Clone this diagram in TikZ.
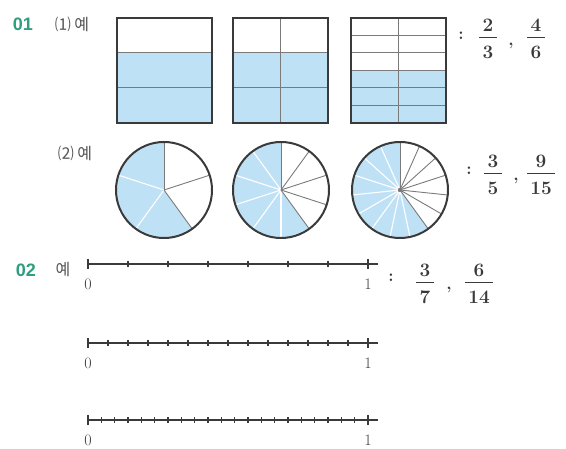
\documentclass[tikz,border=0pt]{standalone}
\usepackage{fontspec}
\usetikzlibrary{calc}
\newfontfamily\kr{Noto Sans CJK KR}
\newfontfamily\hd{Liberation Sans}
\definecolor{shadeblue}{HTML}{BFE1F6}
\definecolor{edgegray}{HTML}{3A3A3A}
\definecolor{midgray}{HTML}{7A7A7A}
\definecolor{numgreen}{HTML}{2E9E7E}
\definecolor{txtgray}{HTML}{555555}
\tikzset{
  outline/.style={draw=edgegray, line width=2},
  inner/.style={draw=midgray, line width=1},
  fillblue/.style={fill=shadeblue},
  numtag/.style={font=\hd\bfseries\fontsize{18}{20}\selectfont, text=numgreen, inner sep=0},
  krtag/.style={font=\kr\fontsize{16}{18}\selectfont, text=txtgray, inner sep=0},
  fracdigit/.style={font=\bfseries\fontsize{19}{21}\selectfont, inner sep=0, text=edgegray},
  punct/.style={font=\bfseries\fontsize{17}{19}\selectfont, inner sep=0, text=edgegray},
  bar/.style={draw=edgegray, line width=1},
  axis/.style={draw=edgegray, line width=1.8},
  tickmark/.style={draw=edgegray, line width=1.1},
  axlabel/.style={font=\fontsize{16}{18}\selectfont, inner sep=0, text=edgegray}
}
\newcommand\myfrac[5]{% name, x, ybar, num, den
  \node[fracdigit] (#1n) at (#2,#3-13) {#4};
  \node[fracdigit] (#1d) at (#2,#3+14) {#5};
  \draw[bar] ([xshift=-3pt]#1d.west |- 0,#3) -- ([xshift=3pt]#1d.east |- 0,#3);
}
\begin{document}
\begin{tikzpicture}[x=1pt,y=-1pt]
\useasboundingbox (0,0) rectangle (566,449);

% ---------- labels ----------
\node[numtag] (t01) at (23,24) {01};
\node[krtag] (t1) at (72,24) {⑴ 예};
\node[krtag] (t2) at (75,153) {⑵ 예};
\node[numtag] (t02) at (26,270) {02};
\node[krtag] (t3) at (63,270) {예};

% ---------- squares ----------
% square 1
\fill[fillblue] (117,53) rectangle (212,123);
\draw[inner] (117,53) -- (212,53) (117,88) -- (212,88);
\draw[outline] (117,18) rectangle (212,123);
% square 2
\fill[fillblue] (233,53) rectangle (328,123);
\draw[inner] (233,53) -- (328,53) (233,88) -- (328,88) (280.5,18) -- (280.5,123);
\draw[outline] (233,18) rectangle (328,123);
% square 3
\fill[fillblue] (351,70.5) rectangle (446,123);
\foreach \yy in {35.5,53,70.5,88,105.5}{\draw[inner] (351,\yy) -- (446,\yy);}
\draw[inner] (398.5,18) -- (398.5,123);
\draw[outline] (351,18) rectangle (446,123);

% fractions row 1
\node[punct] (col1) at (461,36) {:};
\myfrac{fa}{488}{38}{2}{3}
\node[punct] (com1) at (511,46) {,};
\myfrac{fb}{536}{38}{4}{6}

% ---------- circles ----------
\coordinate (c1) at (164,190);
\coordinate (c2) at (281,190);
\coordinate (c3) at (400,190);
\foreach \n/\c in {5/c1,10/c2,15/c3}{
  \pgfmathtruncatemacro\m{3*\n/5}
  \pgfmathtruncatemacro\mm{\m-1}
  \fill[fillblue] (\c) -- ++(-90:48) arc[start angle=-90,end angle=-306,radius=48] -- cycle;
  \foreach \k in {1,...,\mm}{
    \draw[white, line width=1.1] (\c) -- ++({-(90+\k*360/\n)}:48);
  }
  \foreach \k in {\m,...,\n}{
    \draw[midgray, line width=0.9] (\c) -- ++({-(90+\k*360/\n)}:48);
  }
  \draw[outline] (\c) circle[radius=48];
}
\fill[midgray] (c3) circle[radius=2.2];

% fractions row 2
\node[punct] (col2) at (469,171) {:};
\myfrac{fc}{493}{174}{3}{5}
\node[punct] (com2) at (516,181) {,};
\myfrac{fd}{541}{174}{9}{15}

% ---------- number lines ----------
\foreach \yy/\n/\nm in {264/7/a,343/14/b,420/21/c}{
  \coordinate (L\nm0) at (88,\yy);
  \coordinate (L\nm1) at (368,\yy);
  \coordinate (L\nm e) at (378,\yy);
  \draw[axis] (L\nm0) -- (L\nm e);
  \foreach \k in {0,...,\n}{
    \draw[tickmark] ($(L\nm0)!\k/\n!(L\nm1)+(0,-3)$) -- ++(0,6);
  }
  \draw[tickmark] ($(L\nm0)+(0,-5)$) -- ++(0,10);
  \draw[tickmark] ($(L\nm1)+(0,-5)$) -- ++(0,10);
  \node[axlabel] (z\nm) at ($(L\nm0)+(0,20)$) {0};
  \node[axlabel] (o\nm) at ($(L\nm1)+(0,20)$) {1};
}

% fractions number line 1
\node[punct] (col3) at (391,278) {:};
\myfrac{fe}{425}{283}{3}{7}
\node[punct] (com3) at (449,290) {,};
\myfrac{ff}{479}{283}{6}{14}
\end{tikzpicture}
\end{document}
